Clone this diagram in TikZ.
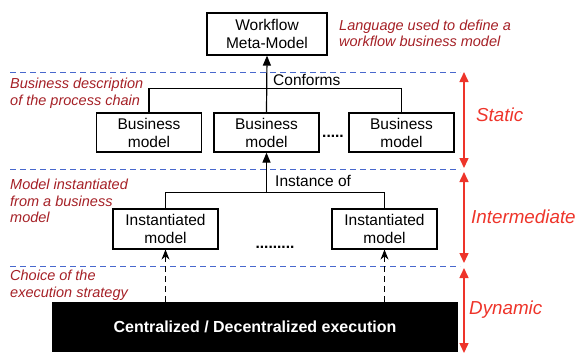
\documentclass[tikz,border=0pt]{standalone}
\usepackage{fontspec}
\setmainfont{Liberation Sans}
\usepackage{tikz}
\usetikzlibrary{arrows.meta,positioning}
\definecolor{darkred}{RGB}{165,32,38}
\definecolor{brightred}{RGB}{238,52,42}
\definecolor{dashblue}{RGB}{72,104,205}

\begin{document}
\begin{tikzpicture}[
x=1pt, y=-1pt,
every node/.style={font=\fontsize{15.5}{18}\selectfont, text centered},
model/.style={rectangle, draw=black, line width=1.2pt, fill=white, minimum width=105pt, minimum height=40pt, inner sep=0pt, align=center},
note/.style={font=\fontsize{14.5}{16.5}\selectfont\itshape, text=darkred, align=left, anchor=west, inner sep=0pt},
level/.style={font=\fontsize{18.8}{22}\selectfont\itshape, text=brightred, anchor=west, inner sep=0pt},
sep/.style={dashblue, line width=1pt, dash pattern=on 6pt off 4pt},
tree/.style={line width=1.2pt},
arrow/.style={-{Triangle[length=10pt,width=8pt]}, line width=1.2pt},
dasharrow/.style={-{Stealth[length=10pt,width=8pt]}, line width=1.2pt, dash pattern=on 6pt off 4pt},
span/.style={{Triangle[length=10pt,width=9pt]}-{Triangle[length=10pt,width=9pt]}, brightred, line width=1.5pt}
]

\useasboundingbox (0,0) rectangle (576,354);

% Level separators

\draw[sep] (10,72) -- (460,72);
\draw[sep] (10,169) -- (460,169);
\draw[sep] (10,266) -- (460,266);

% Meta-model (top)

\node[model, minimum width=120pt, minimum height=42pt] (WF) at (267,34) {Workflow\\Meta-Model};

\node[note] at (339,33.5) {Language used to define a\\workflow business model};

% Business models

\node[model, minimum height=39pt] (B1) at (149,132.5) {Business\\model};
\node[model, minimum height=39pt] (B2) at (266.5,132.5) {Business\\model};
\node[model, minimum height=39pt] (B3) at (401.5,132.5) {Business\\model};

\node[anchor=base, inner sep=0pt, font=\fontsize{15.5}{18}\selectfont\bfseries] (gap1) at (333,137) {.....};

\node[note] at (10,93) {Business description\\of the process chain};

\draw[tree] (B1.north) -- ++(0,-24) -| (B3.north);
\draw[arrow] (B2.north) -- (WF.south);

\node[anchor=west, inner sep=0pt] (conf) at (273,80) {Conforms};

% Instantiated models

\node[model] (I1) at (165.5,229) {Instantiated\\model};
\node[model] (I2) at (384.5,229) {Instantiated\\model};

\node[anchor=base, inner sep=0pt, font=\fontsize{15.5}{18}\selectfont\bfseries] (gap2) at (275,248) {.........};

\node[note] at (10,201) {Model instantiated\\from a business\\model};

\coordinate (inst) at (266.5,193);
\draw[tree] (I1.north) -- ++(0,-16) -| (I2.north);
\draw[arrow] (inst) -- (B2.south);

\node[anchor=west, inner sep=0pt] (instof) at (275,181) {Instance of};

% Execution (bottom)

\node[rectangle, fill=black, text=white, font=\fontsize{16}{18}\selectfont\bfseries, minimum width=406pt, minimum height=50pt, inner sep=0pt] (EX) at (255,327) {Centralized / Decentralized execution};

\node[note] at (10,285) {Choice of the\\execution strategy};

\draw[dasharrow] (EX.north -| I1.south) -- (I1.south);
\draw[dasharrow] (EX.north -| I2.south) -- (I2.south);

% Levels

\draw[span] (464,72) -- (464,168);
\draw[span] (464,172) -- (464,263);
\draw[span] (464,268) -- (464,353);

\node[level] (static) at (476,115) {Static};
\node[level] (inter) at (471,217) {Intermediate};
\node[level] (dyn) at (469,310) {Dynamic};

\end{tikzpicture}
\end{document}
